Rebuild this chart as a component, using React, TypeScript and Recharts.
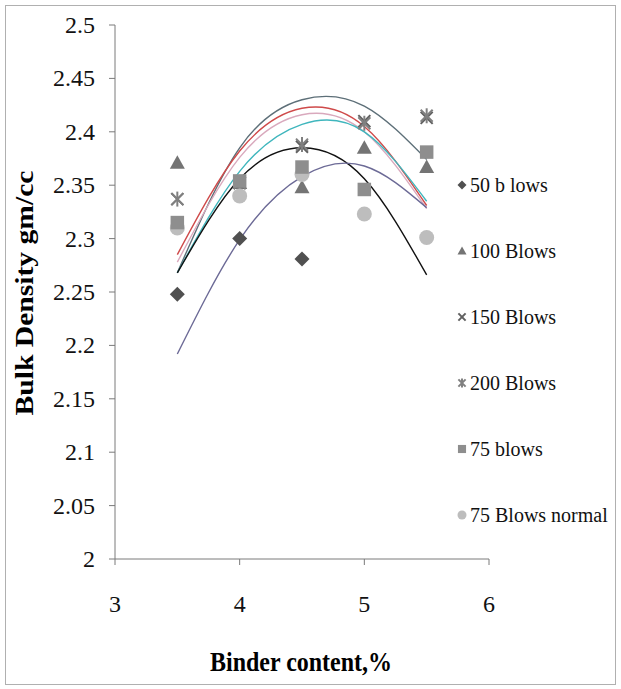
import React from "react";
import { ComposedChart, Scatter, Line, XAxis, YAxis } from "recharts";

// binder content (%) where each sample was tested
const binderContent = [3.5, 4, 4.5, 5, 5.5];

// measured bulk density, gm/cc (null = not visible on the original plot)
const blows50 = [2.248, 2.3, 2.281, null, null];
const blows100 = [2.371, 2.352, 2.348, 2.385, 2.367];
const blows150 = [2.337, 2.352, 2.386, 2.41, 2.413];
const blows200 = [2.337, 2.352, 2.388, 2.408, 2.415];
const blows75 = [2.315, 2.354, 2.367, 2.346, 2.381];
const blows75normal = [2.31, 2.34, 2.36, 2.323, 2.301];

// polynomial trend lines
const trendSlate = [2.268, 2.385, 2.43, 2.424, 2.374];
const trendRed = [2.285, 2.382, 2.422, 2.405, 2.331];
const trendPink = [2.278, 2.376, 2.416, 2.4, 2.328];
const trendCyan = [2.268, 2.363, 2.407, 2.4, 2.335];
const trendBlack = [2.268, 2.356, 2.385, 2.356, 2.266];
const trendPurple = [2.192, 2.299, 2.358, 2.368, 2.329];

const yTicks = [2, 2.05, 2.1, 2.15, 2.2, 2.25, 2.3, 2.35, 2.4, 2.45, 2.5];
const xTicks = [3, 4, 5, 6];

const toPoints = (ys: (number | null)[]) =>
  binderContent
    .map((x, i) => ({ x, y: ys[i] }))
    .filter((p) => p.y !== null);

const font = "Liberation Serif, DejaVu Serif, serif";

type Kind = "diamond" | "triangle" | "cross" | "star" | "square" | "circle";

function Marker({ kind, color, cx, cy, s }: { kind: Kind; color: string; cx: number; cy: number; s: number }) {
  if (kind === "diamond")
    return <path d={`M${cx},${cy - s} L${cx + s},${cy} L${cx},${cy + s} L${cx - s},${cy} Z`} fill={color} />;
  if (kind === "triangle")
    return <path d={`M${cx},${cy - s} L${cx + s},${cy + s * 0.8} L${cx - s},${cy + s * 0.8} Z`} fill={color} />;
  if (kind === "square")
    return <rect x={cx - s * 0.9} y={cy - s * 0.9} width={s * 1.8} height={s * 1.8} fill={color} />;
  if (kind === "circle") return <circle cx={cx} cy={cy} r={s} fill={color} />;
  const d = s * 0.8;
  return (
    <g stroke={color} strokeWidth={2}>
      <line x1={cx - d} y1={cy - d} x2={cx + d} y2={cy + d} />
      <line x1={cx - d} y1={cy + d} x2={cx + d} y2={cy - d} />
      {kind === "star" && <line x1={cx} y1={cy - s} x2={cx} y2={cy + s} />}
    </g>
  );
}

const series = [
  { name: "50 b lows", kind: "diamond" as Kind, color: "#505050", values: blows50 },
  { name: "100 Blows", kind: "triangle" as Kind, color: "#747474", values: blows100 },
  { name: "150 Blows", kind: "cross" as Kind, color: "#606060", values: blows150 },
  { name: "200 Blows", kind: "star" as Kind, color: "#808080", values: blows200 },
  { name: "75 blows", kind: "square" as Kind, color: "#8e8e8e", values: blows75 },
  { name: "75 Blows normal", kind: "circle" as Kind, color: "#bdbdbd", values: blows75normal },
];

const drawOrder = [0, 1, 2, 3, 5, 4];

const trends = [
  { key: "slate", color: "#5d6f78", values: trendSlate },
  { key: "pink", color: "#d9a9bd", values: trendPink },
  { key: "red", color: "#cf4a4a", values: trendRed },
  { key: "cyan", color: "#3fb6bd", values: trendCyan },
  { key: "black", color: "#111111", values: trendBlack },
  { key: "purple", color: "#6c6a96", values: trendPurple },
];

const fmt = (v: number) => String(Number(v.toFixed(2)));

const XTick = (p: any) => (
  <text x={p.x} y={p.y + 17} textAnchor="middle" fontFamily={font} fontSize={24} fill="#111">
    {fmt(p.payload.value)}
  </text>
);

const YTick = (p: any) => (
  <text x={p.x} y={p.y + 8} textAnchor="end" fontFamily={font} fontSize={24} fill="#111">
    {fmt(p.payload.value)}
  </text>
);

// axis titles and legend, laid over the chart
function Overlay() {
  return (
    <svg width={621} height={689} style={{ position: "absolute", left: 0, top: 0, pointerEvents: "none" }}>
      <text
        transform="translate(33,293) rotate(-90)"
        textAnchor="middle"
        fontFamily={font}
        fontSize={25}
        fontWeight="bold"
        textLength={245}
        lengthAdjust="spacingAndGlyphs"
        fill="#000"
      >
        Bulk Density gm/cc
      </text>
      <text
        x={301}
        y={671}
        textAnchor="middle"
        fontFamily={font}
        fontSize={28}
        fontWeight="bold"
        textLength={182}
        lengthAdjust="spacingAndGlyphs"
        fill="#000"
      >
        Binder content,%
      </text>
      {series.map((s, i) => {
        const cy = 185 + i * 66;
        return (
          <g key={s.name}>
            <Marker kind={s.kind} color={s.color} cx={462} cy={cy} s={4.5} />
            <text x={470} y={cy + 7} fontFamily={font} fontSize={20} fill="#111">
              {s.name}
            </text>
          </g>
        );
      })}
      <rect x={5.5} y={5.5} width={610} height={679} fill="none" stroke="#b0b0b0" />
    </svg>
  );
}

export default function App() {
  return (
    <div style={{ position: "absolute", left: 0, top: 0, width: 621, height: 689, background: "#fff" }}>
      <ComposedChart width={621} height={689} margin={{ top: 25, right: 132, bottom: 100, left: 55 }}>
        <XAxis
          type="number"
          dataKey="x"
          domain={[3, 6]}
          ticks={xTicks}
          allowDuplicatedCategory={false}
          stroke="#7a7a7a"
          tickSize={6}
          tickMargin={30}
          height={30}
          tick={XTick}
        />
        <YAxis
          type="number"
          dataKey="y"
          domain={[2, 2.5]}
          ticks={yTicks}
          interval={0}
          width={60}
          stroke="#7a7a7a"
          tickSize={6}
          tickMargin={14}
          tick={YTick}
        />
        {drawOrder.map((i) => {
          const s = series[i];
          return (
            <Scatter
              key={s.name}
              name={s.name}
              data={toPoints(s.values)}
              isAnimationActive={false}
              shape={(p: any) => <Marker kind={s.kind} color={s.color} cx={p.cx} cy={p.cy} s={7.5} />}
            />
          );
        })}
        {trends.map((t) => (
          <Line
            key={t.key}
            data={toPoints(t.values)}
            dataKey="y"
            type="natural"
            stroke={t.color}
            strokeWidth={1.4}
            dot={false}
            activeDot={false}
            isAnimationActive={false}
            legendType="none"
          />
        ))}
      </ComposedChart>
      <Overlay />
    </div>
  );
}
